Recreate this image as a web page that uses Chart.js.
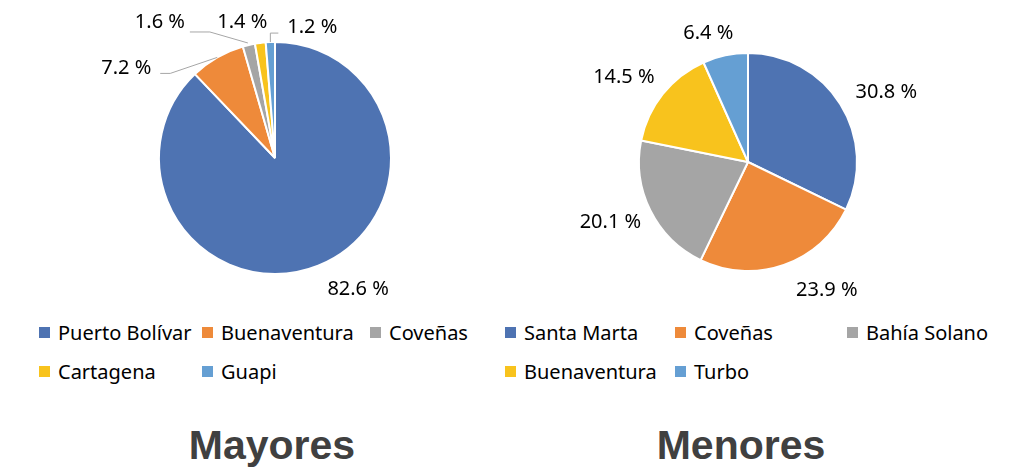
<!DOCTYPE html>
<html>
<head>
<meta charset="utf-8">
<script src="https://cdn.jsdelivr.net/npm/chart.js@4.4.0/dist/chart.umd.min.js"></script>
<style>
  body { margin: 0; background: #fff; width: 1011px; height: 473px; position: relative; overflow: hidden; font-family: "Noto Sans", sans-serif; }
  canvas { position: absolute; top: 0; }
  #mayores { left: 0; }
  #menores { left: 505px; }
  .legend { position: absolute; top: 313px; display: grid; grid-auto-rows: 39px; font-size: 20px; color: #000; }
  .legend span { display: flex; align-items: center; white-space: nowrap; }
  .legend i { display: inline-block; width: 11px; height: 11px; margin-right: 8px; }
  #leg-mayores { left: 39px; grid-template-columns: 163px 168px auto; }
  #leg-menores { left: 505px; grid-template-columns: 170px 172px auto; }
  .title { position: absolute; top: 422px; width: 300px; text-align: center; font: bold 41px "Liberation Sans", Arial, sans-serif; color: #404040; }
</style>
</head>
<body>
<canvas id="mayores" width="505" height="310"></canvas>
<canvas id="menores" width="506" height="310"></canvas>
<div class="legend" id="leg-mayores"></div>
<div class="legend" id="leg-menores"></div>
<div class="title" style="left:122px">Mayores</div>
<div class="title" style="left:591px">Menores</div>
<script>
const mayoresPuertos = ['Puerto Bolívar', 'Buenaventura', 'Coveñas', 'Cartagena', 'Guapi'];
const mayoresPct = [82.6, 7.2, 1.6, 1.4, 1.2];
const menoresPuertos = ['Santa Marta', 'Coveñas', 'Bahía Solano', 'Buenaventura', 'Turbo'];
const menoresPct = [30.8, 23.9, 20.1, 14.5, 6.4];
const colores = ['#4E73B2', '#EE8A3A', '#A5A5A5', '#F8C31D', '#659FD3'];

// percentage labels placed outside each slice, with optional leader lines
const outsideLabels = {
  id: 'outsideLabels',
  afterDatasetsDraw(chart, args, opts) {
    const ctx = chart.ctx;
    const meta = chart.getDatasetMeta(0);
    const values = chart.data.datasets[0].data;
    ctx.save();
    meta.data.forEach((arc, i) => {
      const p = arc.getProps(['x', 'y', 'startAngle', 'endAngle', 'outerRadius'], true);
      const mid = (p.startAngle + p.endAngle) / 2;
      const ax = p.x + p.outerRadius * Math.cos(mid);
      const ay = p.y + p.outerRadius * Math.sin(mid);
      const leader = opts.leaders[i];
      if (leader) {
        ctx.strokeStyle = '#A6A6A6';
        ctx.lineWidth = 1;
        ctx.beginPath();
        leader.forEach(([dx, dy], k) => {
          if (k === 0) ctx.moveTo(ax + dx, ay + dy);
          else ctx.lineTo(ax + dx, ay + dy);
        });
        ctx.stroke();
      }
      const [ox, oy] = opts.offsets[i];
      ctx.fillStyle = '#000';
      ctx.font = '20px "Noto Sans"';
      ctx.textAlign = 'center';
      ctx.textBaseline = 'middle';
      ctx.fillText(values[i].toFixed(1) + ' %', ax + ox, ay + oy);
    });
    ctx.restore();
  }
};

function makePie(id, labels, values, padding, offsets, leaders) {
  return new Chart(document.getElementById(id), {
    type: 'pie',
    data: {
      labels: labels,
      datasets: [{
        data: values,
        backgroundColor: colores,
        borderColor: '#fff',
        borderWidth: 2
      }]
    },
    options: {
      responsive: false,
      animation: false,
      devicePixelRatio: 1,
      layout: { padding: padding },
      plugins: {
        legend: { display: false },
        tooltip: { enabled: false },
        outsideLabels: { offsets: offsets, leaders: leaders }
      }
    },
    plugins: [outsideLabels]
  });
}

function buildLegend(chart, elId) {
  const el = document.getElementById(elId);
  const items = chart.options.plugins.legend.labels.generateLabels(chart);
  items.forEach(item => {
    const span = document.createElement('span');
    const box = document.createElement('i');
    box.style.background = item.fillStyle;
    span.appendChild(box);
    span.appendChild(document.createTextNode(item.text));
    el.appendChild(span);
  });
}

const pieMayores = makePie('mayores', mayoresPuertos, mayoresPct,
  { left: 158, top: 41, right: 113, bottom: 35 },
  [[40, 24], [-91, 11], [-89, -23], [-18, -21], [42, -15]],
  [null, [[0, 0], [-47, 16], [-57, 16]], [[-1, -2], [-39, -13], [-59, -13]], null, [[0, 0], [0, -9], [8, -9]]]
);
const pieMenores = makePie('menores', menoresPuertos, menoresPct,
  { left: 133, top: 52, right: 153, bottom: 38 },
  [[46, -12], [43, 25], [-40, 12], [-39, -17], [-17, -22]],
  [null, null, null, null, null]
);

buildLegend(pieMayores, 'leg-mayores');
buildLegend(pieMenores, 'leg-menores');
</script>
</body>
</html>
